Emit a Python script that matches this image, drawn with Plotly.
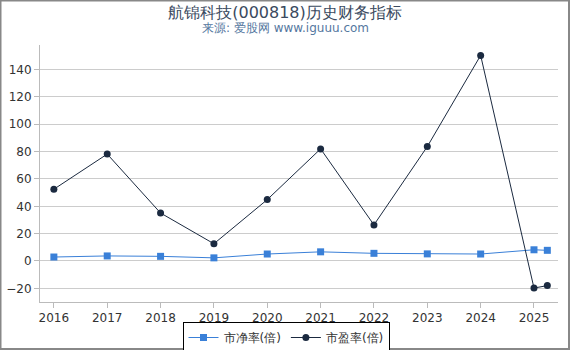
import plotly.graph_objects as go

years = [2016, 2017, 2018, 2019, 2020, 2021, 2022, 2023, 2024, 2025, 2025.25]
pb = [2.9, 3.7, 3.4, 2.3, 5.1, 6.7, 5.6, 5.2, 5.1, 8.2, 7.8]
pe = [52.5, 78.2, 35.1, 12.6, 44.9, 82.0, 26.4, 83.7, 150.4, -19.8, -18.0]
tick_years = [2016, 2017, 2018, 2019, 2020, 2021, 2022, 2023, 2024, 2025]
y_ticks = [-20, 0, 20, 40, 60, 80, 100, 120, 140]

L, R, T, B = 40, 12, 45, 48
W, H = 570, 350
pw, ph = W - L - R, H - T - B
cx = 285  # horizontal centre of the headings, px

fig = go.Figure()
fig.add_trace(go.Scatter(x=years, y=pb, name="市净率(倍)", mode="lines+markers",
                         line=dict(color="#3a80d8", width=1),
                         marker=dict(symbol="square", size=7, color="#3a80d8")))
fig.add_trace(go.Scatter(x=years, y=pe, name="市盈率(倍)", mode="lines+markers",
                         line=dict(color="#1b2a40", width=1),
                         marker=dict(symbol="circle", size=7, color="#1b2a40")))

fig.update_layout(
    template="none",
    width=W, height=H, margin=dict(l=L, r=R, t=T, b=B, autoexpand=False),
    paper_bgcolor="white", plot_bgcolor="white",
    font=dict(family="DejaVu Sans", size=11, color="#333333"),
    title=dict(text="航锦科技(000818)历史财务指标", x=cx / W, xanchor="center",
               xref="container", yref="container", y=1 - 12 / H, yanchor="middle",
               font=dict(family="DejaVu Sans", size=16, color="#3a4a60")),
    annotations=[dict(text="来源: 爱股网 www.iguuu.com", xref="paper", yref="paper",
                      x=(cx - L) / pw, y=1 + 17 / ph, xanchor="center", yanchor="middle",
                      showarrow=False, font=dict(family="DejaVu Sans", size=12, color="#5577a0"))],
    showlegend=True,
    legend=dict(orientation="h", x=(286 - L) / pw, xanchor="center", y=-35.5 / ph, yanchor="middle",
                bordercolor="#000000", borderwidth=1, font=dict(size=12, color="#333333"),
                itemwidth=30, tracegroupgap=0),
    xaxis=dict(range=[2015.74, 2025.45], tickmode="array", tickvals=tick_years, automargin=False,
               ticktext=[str(y) for y in tick_years], showgrid=False, zeroline=False,
               showline=True, linecolor="#bbbbbb", ticks="outside", tickcolor="#bbbbbb", ticklen=5,
               tickfont=dict(size=12, color="#333333")),
    yaxis=dict(range=[-30, 158], tickmode="array", tickvals=y_ticks, showgrid=True, automargin=False,
               gridcolor="#cccccc", zeroline=False, showline=True, linecolor="#bbbbbb",
               ticks="outside", tickcolor="#bbbbbb", ticklen=5,
               tickfont=dict(size=12, color="#333333")),
    shapes=[dict(type="rect", xref="paper", yref="paper",
                 x0=-L / pw + 0.5 / pw, x1=1 + R / pw - 1 / pw,
                 y0=-B / ph + 1 / ph, y1=1 + T / ph - 0.5 / ph,
                 line=dict(color="#888888", width=2), layer="below")],
)
fig.write_html("out.html")
